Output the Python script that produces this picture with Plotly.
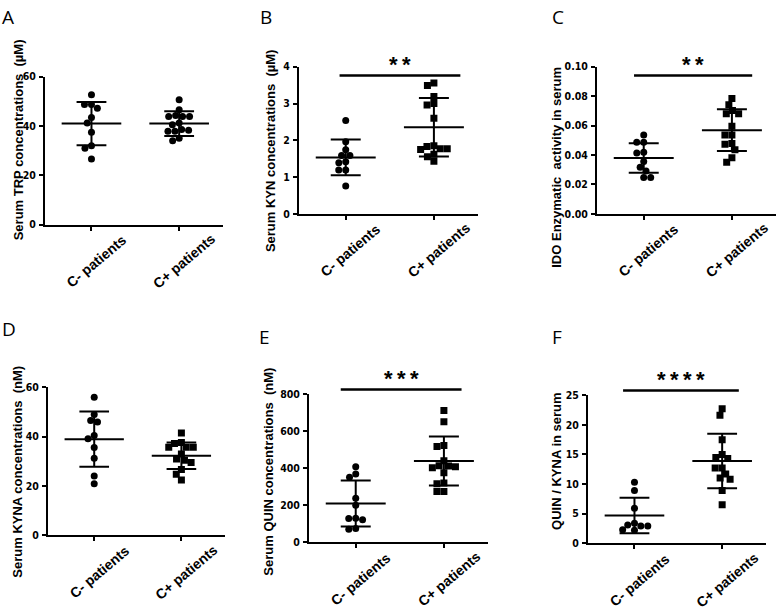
import numpy as np
import plotly.graph_objects as go

W, H = 778, 612

# ---------------- data ----------------
groups = ["C- patients", "C+ patients"]

trp_neg = [52.6, 48.7, 48.7, 47.2, 43.4, 41.2, 37.4, 32.0, 31.0, 26.6]
trp_pos = [50.6, 46.6, 44.2, 43.8, 43.8, 43.8, 41.2, 40.5, 38.6, 37.8, 37.8, 38.3, 35.0, 34.0]
trp_mean = [40.95, 40.95]
trp_sd = [8.75, 5.05]

kyn_neg = [2.54, 1.96, 1.74, 1.59, 1.59, 1.42, 1.39, 1.19, 1.19, 0.76]
kyn_pos = [3.49, 3.56, 3.19, 3.0, 2.96, 2.6, 1.85, 1.83, 1.77, 1.77, 1.75, 1.62, 1.55, 1.43]
kyn_mean = [1.535, 2.355]
kyn_sd = [0.485, 0.795]

ido_neg = [0.0536, 0.0487, 0.0487, 0.0413, 0.0418, 0.0356, 0.0316, 0.0291, 0.0247, 0.0247]
ido_pos = [0.0784, 0.0742, 0.0702, 0.068, 0.068, 0.0596, 0.0536, 0.0536, 0.0473, 0.0478,
           0.0436, 0.0382, 0.0351]
ido_mean = [0.038, 0.0569]
ido_sd = [0.010, 0.0142]

kyna_neg = [56.0, 49.0, 46.0, 46.6, 40.5, 39.2, 35.6, 31.3, 24.1, 20.9]
kyna_pos = [41.5, 37.3, 37.7, 35.7, 35.7, 35.7, 33.0, 31.0, 29.6, 30.5, 26.7, 24.8, 22.5]
kyna_mean = [39.0, 32.3]
kyna_sd = [11.2, 5.4]

quin_neg = [408, 369, 352, 238, 200, 130, 128, 122, 75, 70]
quin_pos = [712, 652, 523, 518, 412, 403, 408, 413, 440, 376, 320, 316, 274, 274]
quin_mean = [209.5, 439]
quin_sd = [124.5, 132]

ratio_neg = [10.3, 8.9, 5.9, 3.1, 2.9, 2.2, 2.3, 2.9, 3.4]
ratio_pos = [22.7, 21.6, 17.5, 15.0, 14.5, 14.3, 12.7, 12.7, 11.7, 11.0, 10.8, 8.9, 6.5]
ratio_mean = [4.67, 13.9]
ratio_sd = [3.0, 4.6]

y_titles = ["Serum TRP concentrations  (µM)", "Serum KYN concentrations  (µM)",
            "IDO Enzymatic  activity in serum", "Serum KYNA concentrations  (nM)",
            "Serum QUIN concentrations  (nM)", "QUIN / KYNA in serum"]
panel_letters = ["A", "B", "C", "D", "E", "F"]
y_max = [60, 4, 0.10, 60, 800, 25]
y_step = [20, 1, 0.02, 20, 200, 5]
y_fmt = ["{:.0f}", "{:.0f}", "{:.2f}", "{:.0f}", "{:.0f}", "{:.0f}"]
sig_text = [None, "**", "**", None, "***", "****"]
sig_level = [None, 3.76, 0.094, None, 826, 25.8]
sig_from = [None, -0.07, -0.11, None, -0.17, -0.13]
sig_to = [None, 1.30, 1.23, None, 1.20, 1.19]

neg_sets = [trp_neg, kyn_neg, ido_neg, kyna_neg, quin_neg, ratio_neg]
pos_sets = [trp_pos, kyn_pos, ido_pos, kyna_pos, quin_pos, ratio_pos]
means = [trp_mean, kyn_mean, ido_mean, kyna_mean, quin_mean, ratio_mean]
sds = [trp_sd, kyn_sd, ido_sd, kyna_sd, quin_sd, ratio_sd]
pos_symbol = ["circle", "square", "square", "square", "square", "square"]

# ---------------- layout geometry (pixels) ----------------
geom = [(45, 223, 72, 223), (299, 478, 62, 212), (597, 776, 62, 212),
        (48, 225, 389, 540), (309, 488, 396, 547), (588, 766, 397, 548)]
letter_pos = [(8, 11), (266, 11), (558, 11), (9, 329), (264, 338), (557, 338)]
ytitle_pos = [(18, 137), (270, 148), (557, 165), (18, 475), (269, 475), (557, 465)]
XR = [-0.53, 1.5]

BOLD = "Liberation Sans, Arial, sans-serif"
NARROW = "Liberation Sans Narrow, Arial Narrow, DejaVu Sans Condensed, sans-serif"


def swarm(vals, ppx, ppy, d=7.0):
    """Greedy beeswarm: horizontal offsets (data units) so markers don't overlap."""
    vals = np.asarray(vals, dtype=float)
    order = np.argsort(-vals, kind="stable")
    placed = []
    offs = np.zeros(len(vals))
    for i in order:
        y = vals[i] * ppy
        cands = [0.0]
        forb = []
        for (px, py) in placed:
            dy = abs(py - y)
            if dy < d:
                w = np.sqrt(d * d - dy * dy)
                forb.append((px - w, px + w))
                cands += [px - w, px + w]
        best = 0.0
        for c in sorted(cands, key=lambda c: (abs(c), c)):
            if all(not (a + 1e-9 < c < b - 1e-9) for a, b in forb):
                best = c
                break
        placed.append((best, y))
        offs[i] = best / ppx
    return offs


fig = go.Figure()
layout = dict(width=W, height=H, margin=dict(l=0, r=0, t=0, b=0),
              paper_bgcolor="white", plot_bgcolor="white", showlegend=False)
annotations = []
shapes = []

for k in range(6):
    n = "" if k == 0 else str(k + 1)
    xa, ya = "x" + n, "y" + n
    x0, x1, yt, yb = geom[k]
    ppx = (x1 - x0) / (XR[1] - XR[0])
    ppy = (yb - yt) / y_max[k]
    dom_h = yb - yt

    for g, (vals, sym) in enumerate([(neg_sets[k], "circle"), (pos_sets[k], pos_symbol[k])]):
        offs = swarm(vals, ppx, ppy)
        fig.add_trace(go.Scatter(
            x=g + offs, y=vals, mode="markers", xaxis=xa, yaxis=ya,
            marker=dict(symbol=sym, size=7, color="black", line=dict(width=0)),
            hoverinfo="y"))
        m, s = means[k][g], sds[k][g]
        fig.add_trace(go.Scatter(
            x=[g - 0.34, g + 0.34, None, g - 0.17, g + 0.17, None,
               g - 0.17, g + 0.17, None, g, g],
            y=[m, m, None, m + s, m + s, None, m - s, m - s, None, m - s, m + s],
            mode="lines", xaxis=xa, yaxis=ya,
            line=dict(color="black", width=2), hoverinfo="skip"))

    tv = [round(v, 4) for v in np.arange(0, y_max[k] + y_step[k] / 2, y_step[k])]
    layout["xaxis" + n] = dict(
        domain=[x0 / W, x1 / W], range=XR, anchor=ya, showgrid=False, zeroline=False,
        showline=True, linecolor="black", linewidth=2, tickvals=[0, 1],
        ticks="outside", ticklen=4, tickwidth=1.5, tickcolor="black",
        showticklabels=False, fixedrange=True)
    layout["yaxis" + n] = dict(
        domain=[1 - yb / H, 1 - yt / H], range=[0, y_max[k]], anchor=xa,
        showgrid=False, zeroline=False, showline=True, linecolor="black", linewidth=2,
        tickvals=tv, ticktext=["<b>" + y_fmt[k].format(v) + "</b>" for v in tv],
        ticks="outside", ticklen=4, tickwidth=1.5, ticklabelstandoff=1,
        tickcolor="black", tickfont=dict(family=NARROW, size=10.5, color="black"),
        fixedrange=True)

    for g, lab in enumerate(groups):
        annotations.append(dict(
            text="<b>" + lab + "</b>", xref=xa, yref=ya + " domain",
            x=g + 5 / ppx, y=-37 / dom_h,
            textangle=-40, showarrow=False, xanchor="center", yanchor="middle",
            font=dict(family=BOLD, size=14, color="black")))

    tx, ty = ytitle_pos[k]
    annotations.append(dict(
        text="<b>" + y_titles[k] + "</b>", xref="paper", yref="paper",
        x=tx / W, y=1 - ty / H,
        textangle=-90, showarrow=False, xanchor="center", yanchor="middle",
        font=dict(family=BOLD, size=13, color="black")))

    lx, ly = letter_pos[k]
    annotations.append(dict(
        text=panel_letters[k], xref="paper", yref="paper", x=lx / W, y=1 - ly / H,
        showarrow=False, xanchor="center", yanchor="middle",
        font=dict(family="Open Sans, Noto Sans, sans-serif", size=19, color="black")))

    if sig_text[k]:
        xd0 = (sig_from[k] - XR[0]) / (XR[1] - XR[0])
        xd1 = (sig_to[k] - XR[0]) / (XR[1] - XR[0])
        yd = sig_level[k] / y_max[k]
        shapes.append(dict(type="line", xref=xa + " domain", yref=ya + " domain",
                           x0=xd0, x1=xd1, y0=yd, y1=yd,
                           line=dict(color="black", width=2.5)))
        annotations.append(dict(
            text="<b>" + "\u2009".join(sig_text[k]) + "</b>",
            xref=xa + " domain", yref=ya + " domain",
            x=(xd0 + xd1) / 2, y=yd, yshift=11, showarrow=False,
            xanchor="center", yanchor="middle",
            font=dict(family=BOLD, size=22, color="black")))

layout["annotations"] = annotations
layout["shapes"] = shapes
fig.update_layout(**layout)
fig.write_html("out.html", config={"displayModeBar": False},
               post_script="document.body.style.margin='0';document.body.style.overflow='hidden';")
